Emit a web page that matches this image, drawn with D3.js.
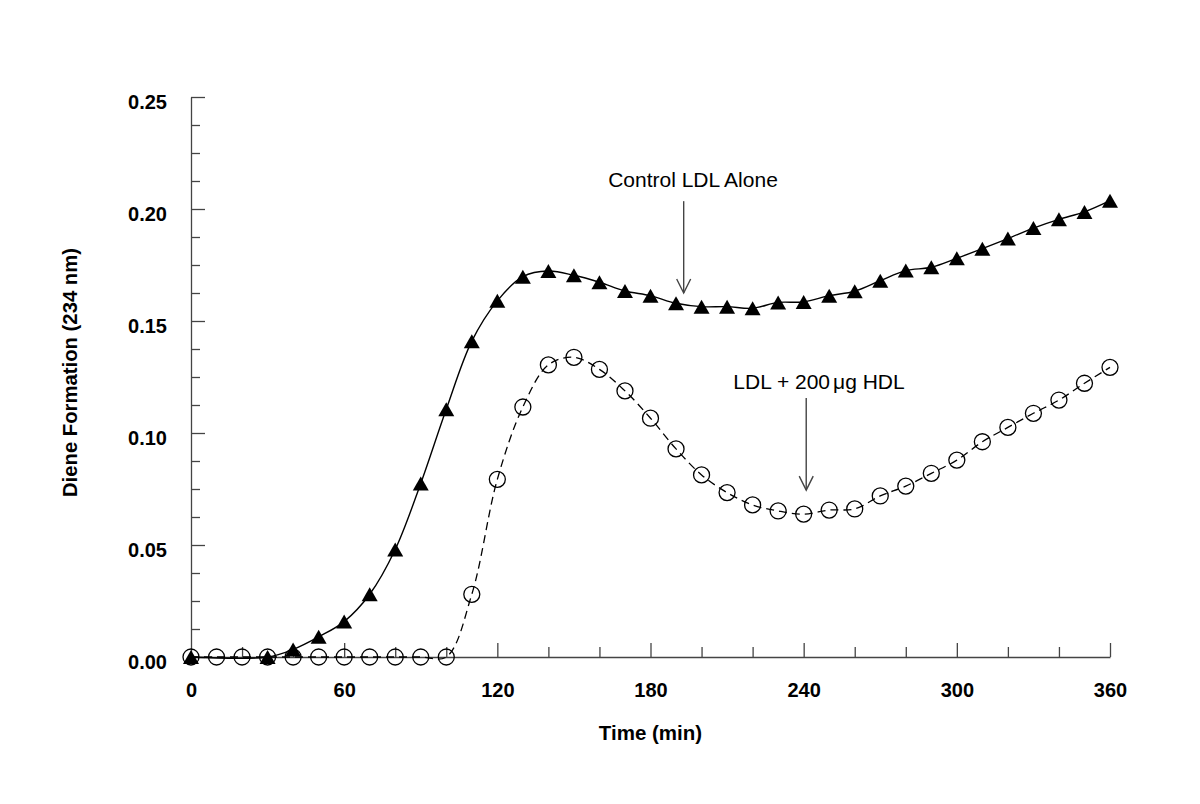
<!DOCTYPE html>
<html>
<head>
<meta charset="utf-8">
<script src="https://cdn.jsdelivr.net/npm/d3@7"></script>
<style>
  html, body { margin: 0; padding: 0; background: #ffffff; }
  svg { display: block; }
  text { font-family: "Liberation Sans", Arial, Helvetica, sans-serif; }
</style>
</head>
<body>
<svg id="chart" width="1200" height="804"></svg>
<script>
// ---- Data ----
const controlTimes = [0, 30, 40, 50, 60, 70, 80, 90, 100, 110, 120, 130, 140, 150, 160, 170, 180, 190, 200,
  210, 220, 230, 240, 250, 260, 270, 280, 290, 300, 310, 320, 330, 340, 350, 360];
const controlValues = [0, 0, 0.0034, 0.009, 0.0158, 0.028, 0.048, 0.0775, 0.1106, 0.141, 0.159, 0.1698, 0.1723,
  0.1704, 0.1673, 0.1634, 0.1613, 0.1579, 0.1564, 0.1564, 0.1557, 0.1583, 0.1585, 0.1613, 0.1633, 0.168, 0.1725,
  0.174, 0.178, 0.1823, 0.1868, 0.1915, 0.1954, 0.1987, 0.2037];

const hdlTimes = [0, 10, 20, 30, 40, 50, 60, 70, 80, 90, 100, 110, 120, 130, 140, 150, 160, 170, 180, 190, 200,
  210, 220, 230, 240, 250, 260, 270, 280, 290, 300, 310, 320, 330, 340, 350, 360];
const hdlValues = [0, 0, 0, 0, 0, 0, 0, 0, 0, 0, 0, 0.028, 0.0793, 0.1116, 0.1304, 0.1338, 0.1284, 0.1188,
  0.1066, 0.0929, 0.0813, 0.0734, 0.0679, 0.0652, 0.0638, 0.0656, 0.0661, 0.0719, 0.0763, 0.082, 0.0879,
  0.0961, 0.1025, 0.1088, 0.1147, 0.1222, 0.1293];

const xMajorTicks = [0, 60, 120, 180, 240, 300, 360];
const xMinorTicks = [20, 40, 80, 100, 140, 160, 200, 220, 260, 280, 320, 340];
const yMajorTicks = [0, 0.05, 0.10, 0.15, 0.20, 0.25];
const yMinorTicks = [0.0125, 0.025, 0.0375, 0.0625, 0.075, 0.0875, 0.1125, 0.125, 0.1375,
  0.1625, 0.175, 0.1875, 0.2125, 0.225, 0.2375];

const xTitle = "Time (min)";
const yTitle = "Diene Formation (234 nm)";
const controlLabel = "Control LDL Alone";
const controlArrowAt = [193, 0.2035, 0.1625]; // time, from value, to value
const hdlLabelParts = ["LDL + 200", "\u03bc", "g HDL"];
const hdlArrowAt = [241, 0.1156, 0.0745];

// ---- Scales ----
const svg = d3.select("#chart");
const x = d3.scaleLinear().domain([0, 360]).range([191, 1110]);
const y = d3.scaleLinear().domain([0, 0.25]).range([657, 97]);
const axisColor = "#444";

// ---- Y axis ----
const gy = svg.append("g").attr("transform", `translate(${x(0)},0)`);
gy.call(d3.axisRight(y).tickValues(yMinorTicks).tickSize(9).tickSizeOuter(0).tickFormat(""));
const gyMaj = svg.append("g").attr("transform", `translate(${x(0)},0)`);
gyMaj.call(d3.axisRight(y).tickValues(yMajorTicks).tickSize(14).tickSizeOuter(0).tickFormat(""));
gyMaj.select(".domain").remove();
const gyLab = svg.append("g").attr("transform", `translate(${x(0)},0)`);
gyLab.call(d3.axisLeft(y).tickValues(yMajorTicks).tickSize(0).tickPadding(24).tickFormat(d3.format(".2f")));
gyLab.select(".domain").remove();
gyLab.selectAll("text").attr("dy", "0.55em").attr("font-size", 20).attr("font-weight", "bold")
  .attr("fill", "#000").style("font-family", '"Liberation Sans", Arial, sans-serif');

// ---- X axis ----
const gx = svg.append("g").attr("transform", `translate(0,${y(0)})`);
gx.call(d3.axisBottom(x).tickValues(xMinorTicks).tickSize(-10).tickSizeOuter(0).tickFormat(""));
const gxMaj = svg.append("g").attr("transform", `translate(0,${y(0)})`);
gxMaj.call(d3.axisBottom(x).tickValues(xMajorTicks.filter(d => d > 0)).tickSize(-14).tickSizeOuter(0).tickFormat(""));
gxMaj.select(".domain").remove();
const gxLab = svg.append("g").attr("transform", `translate(0,${y(0)})`);
gxLab.call(d3.axisBottom(x).tickValues(xMajorTicks).tickSize(0).tickPadding(26).tickFormat(d3.format("d")));
gxLab.select(".domain").remove();
gxLab.selectAll("text").attr("font-size", 20).attr("font-weight", "bold")
  .attr("fill", "#000").style("font-family", '"Liberation Sans", Arial, sans-serif');

svg.selectAll(".domain, .tick line").attr("stroke", axisColor).attr("stroke-width", 1.3);

// ---- Titles ----
svg.append("text").attr("x", x(180)).attr("y", 740).attr("text-anchor", "middle")
  .attr("font-size", 20.5).attr("font-weight", "bold").text(xTitle);
svg.append("text").attr("transform", `translate(77,${372.5}) rotate(-90)`).attr("text-anchor", "middle")
  .attr("font-size", 20.3).attr("font-weight", "bold").text(yTitle);

// ---- Lines ----
const controlData = controlTimes.map((t, i) => ({ t, v: controlValues[i] }));
const hdlData = hdlTimes.map((t, i) => ({ t, v: hdlValues[i] }));
const line = d3.line().x(d => x(d.t)).y(d => y(d.v)).curve(d3.curveCatmullRom.alpha(0.5));

svg.append("path").datum(hdlData).attr("d", line).attr("fill", "none")
  .attr("stroke", "#000").attr("stroke-width", 1.3).attr("stroke-dasharray", "8,5");
svg.append("path").datum(controlData).attr("d", line).attr("fill", "none")
  .attr("stroke", "#000").attr("stroke-width", 1.4);

// ---- Markers ----
svg.append("g").selectAll("circle").data(hdlData).join("circle")
  .attr("cx", d => x(d.t)).attr("cy", d => y(d.v)).attr("r", 8)
  .attr("fill", "none").attr("stroke", "#000").attr("stroke-width", 1.3);

const tw = 16, th = 14;
svg.append("g").selectAll("path").data(controlData).join("path")
  .attr("transform", d => `translate(${x(d.t)},${y(d.v)})`)
  .attr("d", `M0,${-th / 2}L${tw / 2},${th / 2}L${-tw / 2},${th / 2}Z`)
  .attr("fill", "#000");

// ---- Annotations ----
function arrow(t, v0, v1) {
  const ax = x(t), y0 = y(v0), y1 = y(v1);
  svg.append("line").attr("x1", ax).attr("x2", ax).attr("y1", y0).attr("y2", y1)
    .attr("stroke", axisColor).attr("stroke-width", 1.4);
  svg.append("path").attr("d", `M${ax - 7},${y1 - 14}L${ax},${y1}L${ax + 7},${y1 - 14}`)
    .attr("fill", "none").attr("stroke", axisColor).attr("stroke-width", 1.4);
}
svg.append("text").attr("x", 693).attr("y", 187).attr("text-anchor", "middle")
  .attr("font-size", 21).text(controlLabel);
arrow(controlArrowAt[0], controlArrowAt[1], controlArrowAt[2]);

const ht = svg.append("text").attr("x", 819).attr("y", 389).attr("text-anchor", "middle").attr("font-size", 21);
ht.append("tspan").text(hdlLabelParts[0]);
ht.append("tspan").attr("dx", 3).text(hdlLabelParts[1]);
ht.append("tspan").text(hdlLabelParts[2]);
arrow(hdlArrowAt[0], hdlArrowAt[1], hdlArrowAt[2]);
</script>
</body>
</html>
